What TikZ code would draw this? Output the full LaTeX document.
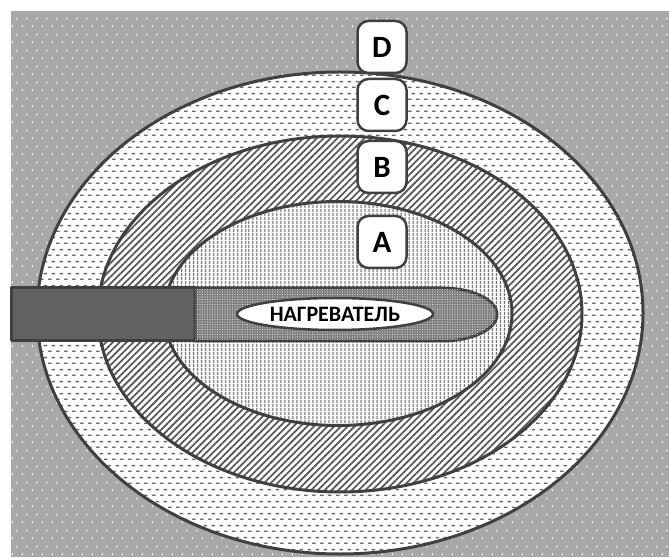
\documentclass[tikz,border=0pt]{standalone}
\usepackage{fontspec}
\setmainfont{Carlito}
\usetikzlibrary{patterns.meta,shapes.geometric}

% white marks on the grey surround
\pgfdeclarepattern{
  name=BgDots, type=uncolored,
  bottom left={\pgfpoint{0pt}{0pt}}, top right={\pgfpoint{10pt}{16pt}},
  tile size={\pgfpoint{10pt}{16pt}},
  code={\pgfpathrectangle{\pgfpoint{2pt}{3pt}}{\pgfpoint{1.2pt}{2pt}}
        \pgfpathrectangle{\pgfpoint{7pt}{11pt}}{\pgfpoint{1.2pt}{2pt}}
        \pgfusepath{fill}}
}
% staggered short dashes for the outer zone
\pgfdeclarepattern{
  name=HDash, type=uncolored,
  bottom left={\pgfpoint{0pt}{0pt}}, top right={\pgfpoint{8pt}{12pt}},
  tile size={\pgfpoint{8pt}{12pt}},
  code={\pgfsetlinewidth{1.5pt}
        \pgfpathmoveto{\pgfpoint{0pt}{3pt}}\pgfpathlineto{\pgfpoint{4pt}{3pt}}
        \pgfpathmoveto{\pgfpoint{4pt}{9pt}}\pgfpathlineto{\pgfpoint{8pt}{9pt}}
        \pgfusepath{stroke}}
}

\definecolor{edge}{HTML}{404040}
\definecolor{bg}{HTML}{A8A8A8}
\definecolor{rod}{HTML}{616161}
\definecolor{tip}{HTML}{7E7E7E}
\definecolor{hatch}{HTML}{5A5A5A}
\definecolor{stripe}{HTML}{707070}
\definecolor{dash}{HTML}{6A6A6A}

\tikzset{
  zoneline/.style={draw=edge, line width=3pt},
  tag/.style={draw=edge, fill=white, line width=2.5pt, rounded corners=11pt,
    minimum width=49pt, minimum height=52pt, inner sep=0pt,
    font=\bfseries\fontsize{31}{33}\selectfont},
}

\begin{document}
\begin{tikzpicture}[x=1pt,y=1pt,line join=round]
\useasboundingbox (0,0) rectangle (669,557);

% grey surround (zone D)
\fill[bg] (11,0) rectangle (669,546);
\fill[pattern=BgDots, pattern color=white] (11,0) rectangle (669,546);

% zone C
\draw[zoneline, preaction={fill=white}, pattern=HDash, pattern color=dash]
  (340,244) ellipse [x radius=303, y radius=241];
% zone B
\draw[zoneline, preaction={fill=white},
  pattern={Lines[angle=45,distance=4.8pt,line width=1.8pt]}, pattern color=hatch]
  (340,243) ellipse [x radius=242, y radius=178];
% zone A
\draw[zoneline, preaction={fill=white},
  pattern={Lines[angle=90,distance=4pt,line width=1.6pt]}, pattern color=stripe]
  (338,243.5) ellipse [x radius=174, y radius=112];

% heater rod
\draw[fill=rod, draw=edge, line width=3pt] (11,216) rectangle (195,269);
\draw[draw=edge, line width=3pt, fill=tip,
  postaction={pattern={Dots[distance=2.5pt,radius=0.55pt]}, pattern color=gray!25}]
  (195,269) -- (442,269) arc[start angle=90, end angle=-90, x radius=55, y radius=26.5]
  -- (195,216) -- cycle;
\node[ellipse, draw=edge, fill=white, line width=2.5pt, minimum width=196pt,
  minimum height=32pt, inner sep=0pt, font=\bfseries\fontsize{22}{24}\selectfont]
  (heater) at (335,243) {НАГРЕВАТЕЛЬ};

% zone labels
\node[tag] (labD) at (382,510) {D};
\node[tag] (labC) at (382,452) {C};
\node[tag] (labB) at (382,390) {B};
\node[tag] (labA) at (382,315) {A};
\end{tikzpicture}
\end{document}
